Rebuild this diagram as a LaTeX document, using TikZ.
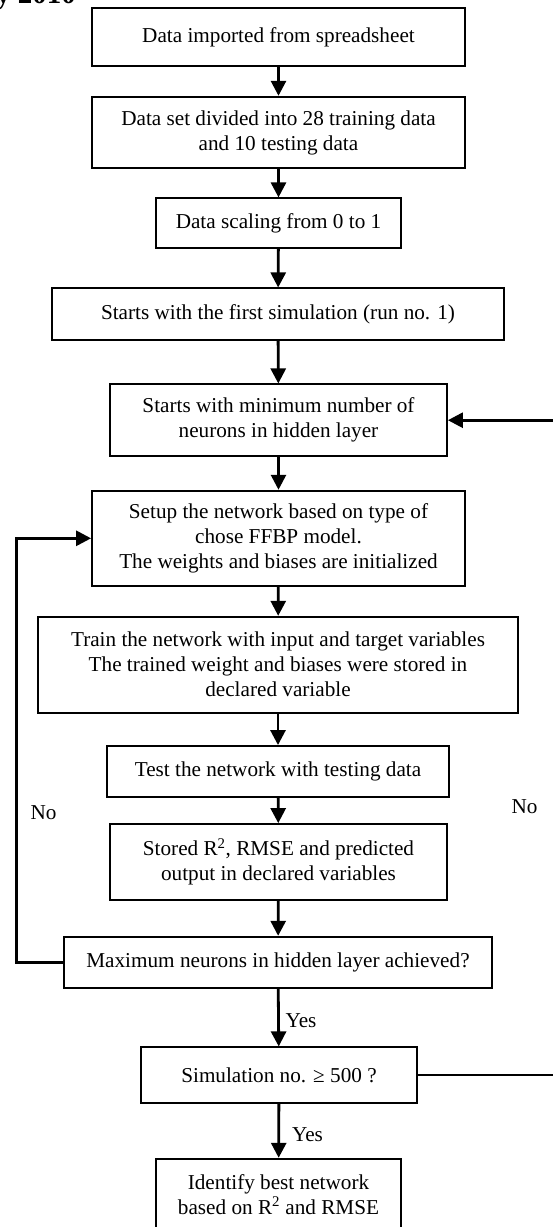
\documentclass[tikz,border=0pt]{standalone}
\usepackage{fontspec}
\setmainfont{Liberation Serif}
\usetikzlibrary{arrows.meta,calc}
\begin{document}
\begin{tikzpicture}[x=1pt,y=-1pt,
  box/.style={draw, line width=1.8pt, align=center, inner sep=0pt,
    font=\fontsize{21.2}{25}\selectfont},
  arr/.style={line width=2.8pt, -{Triangle[length=15pt,width=15pt]}},
  lbl/.style={font=\fontsize{21.2}{25}\selectfont, inner sep=0pt}]
\useasboundingbox (0,0) rectangle (552,1227);
\node[anchor=base west, inner sep=0pt, font=\fontsize{29}{32}\selectfont\bfseries] (hdr) at (-4,3.5) {y 2010};
\node[box, minimum width=373pt, minimum height=57.7pt] (b1) at (278.5,37.2) {Data imported from spreadsheet};
\node[box, minimum width=373pt, minimum height=71.6pt] (b2) at (278.5,132.5) {Data set divided into 28 training data\\and 10 testing data};
\node[box, minimum width=245pt, minimum height=50pt] (b3) at (278.5,223.3) {Data scaling from 0 to 1};
\node[box, minimum width=452pt, minimum height=51.7pt] (b4) at (278,314.2) {Starts with the first simulation (run no. 1)};
\node[box, minimum width=337pt, minimum height=71.7pt] (b5) at (278.5,420.2) {Starts with minimum number of\\neurons in hidden layer};
\node[box, minimum width=373pt, minimum height=95.3pt] (b6) at (278.5,538.3) {Setup the network based on type of\\chose FFBP model.\\The weights and biases are initialized};
\node[box, minimum width=480pt, minimum height=96pt] (b7) at (278,664.7) {Train the network with input and target variables\\The trained weight and biases were stored in\\declared variable};
\node[box, minimum width=342pt, minimum height=50.7pt] (b8) at (278,771.3) {Test the network with testing data};
\node[box, minimum width=337pt, minimum height=76pt] (b9) at (278.5,862) {Stored R\textsuperscript{2}, RMSE and predicted\\output in declared variables};
\node[box, minimum width=428pt, minimum height=51.6pt] (b10) at (278,962.5) {Maximum neurons in hidden layer achieved?};
\node[box, minimum width=276pt, minimum height=55.4pt] (b11) at (279,1075) {Simulation no. ≥ 500 ?};
\node[box, minimum width=245pt, minimum height=71pt] (b12) at (278.5,1194.2) {Identify best network\\based on R\textsuperscript{2} and RMSE};

\foreach \a/\b in {b1/b2,b2/b3,b3/b4,b4/b5,b5/b6,b6/b7,b7/b8,b8/b9,b9/b10,b10/b11,b11/b12}
  \draw[arr] (\a) -- (\b);

\coordinate (ll) at (16.5,0);
\coordinate (rr) at (557,0);
\draw[arr] (b10.west) -- (b10.west -| ll) -- (ll |- b6.west) -- (b6.west);
\draw[arr] (b11.east) -- (b11.east -| rr) -- (rr |- b5.east) -- (b5.east);

\node[lbl] (no1) at (43.5,813) {No};
\node[lbl] (no2) at (524.5,806.7) {No};
\node[lbl] (yes1) at (301,1020.7) {Yes};
\node[lbl] (yes2) at (307.5,1135) {Yes};
\end{tikzpicture}
\end{document}
